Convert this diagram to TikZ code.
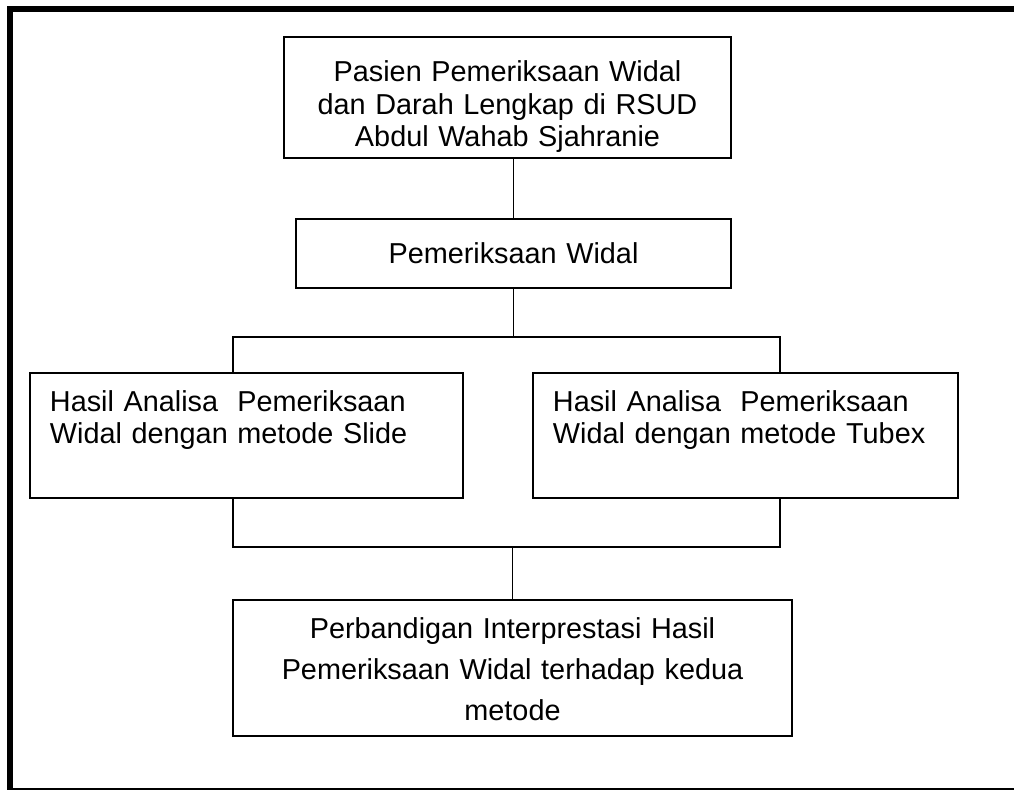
\documentclass[tikz,border=0pt]{standalone}
\usepackage{fontspec}
\setmainfont{Liberation Sans}

\begin{document}
\begin{tikzpicture}[x=0.025cm,y=-0.025cm,line width=1.1pt,
  main node/.style={draw,line width=1.4pt,inner sep=0pt,align=center,font=\fontsize{20.5}{22.8}\selectfont},
  side node/.style={main node,align=left,inner xsep=0.5cm}]
  \useasboundingbox (0,0) rectangle (1014,790);
  \draw[line width=4.3pt] (1020,9) -- (10,9) -- (10,792);
  \draw[line width=1.8pt] (10,789) -- (1020,789);
  \node[main node,text width=11.175cm,text height=1.125cm,text depth=1.9cm] (1) at (507.5,97.5)
    {Pasien Pemeriksaan Widal\\dan Darah Lengkap di RSUD\\Abdul Wahab Sjahranie};
  \node[main node,text width=10.875cm,text height=1.1cm,text depth=0.625cm] (2) at (513.5,253.5)
    {Pemeriksaan Widal};
  \node[side node,text width=9.825cm,text height=0.95cm,text depth=2.175cm] (3) at (246.5,435.5)
    {Hasil Analisa\ \ Pemeriksaan\\Widal dengan metode Slide};
  \node[side node,text width=9.625cm,text height=0.95cm,text depth=2.175cm] (4) at (745.5,435.5)
    {Hasil Analisa\ \ Pemeriksaan\\Widal dengan metode Tubex};
  \node[main node,font=\fontsize{20.5}{29.2}\selectfont,text width=13.975cm,text height=0.95cm,text depth=2.45cm] (5) at (512.5,668)
    {Perbandigan Interprestasi Hasil\\Pemeriksaan Widal terhadap kedua\\metode};
  \coordinate (s1) at (233,337);
  \coordinate (s2) at (780,337);
  \coordinate (j1) at (233,547);
  \coordinate (j2) at (780,547);
  \draw (2.north) -- (2.north |- 1.south);
  \draw (2.south) -- (2.south |- s1);
  \draw (s1 |- 3.north) -- (s1) -- (s2) -- (s2 |- 4.north);
  \draw (j1 |- 3.south) -- (j1) -- (j2) -- (j2 |- 4.south);
  \draw (5.north) -- (5.north |- j1);
\end{tikzpicture}
\end{document}
